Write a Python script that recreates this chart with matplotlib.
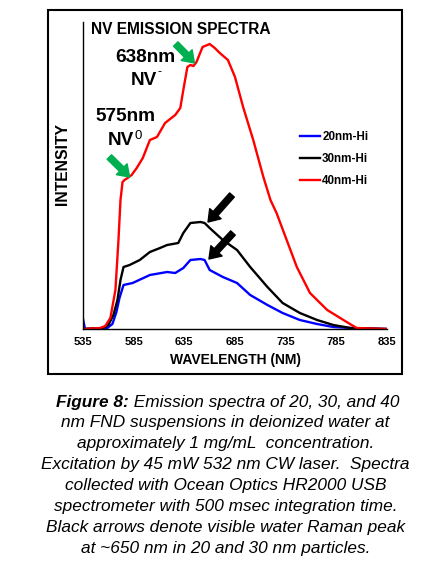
import matplotlib
matplotlib.use("Agg")
import matplotlib.pyplot as plt
from matplotlib.patches import Rectangle

plt.rcParams['font.family'] = ['Liberation Sans', 'DejaVu Sans']

# spectra (wavelength nm, intensity arb.)
red_wl = [535, 552, 557, 562, 567, 570, 572, 574, 576, 579, 583, 588, 594, 601, 608, 616, 626,
          631, 634, 638, 641, 644, 647, 653, 660, 665, 670, 678, 685, 693, 703, 713, 720, 726,
          736, 746, 759, 776, 792, 805, 835]
red_i = [0, 1, 3, 11, 39, 89, 129, 147, 149, 151, 154, 161, 171, 189, 192, 206, 214,
         221, 239, 262, 264, 263, 267, 282, 285, 281, 276, 269, 252, 222, 189, 152, 129, 116,
         89, 62, 36, 19, 9, 1, 0]

black_wl = [535, 555, 560, 565, 569, 572, 575, 581, 591, 601, 611, 618, 629, 634, 641, 651,
            655, 660, 673, 687, 700, 717, 732, 749, 766, 782, 799, 835]
black_i = [0, 1, 4, 14, 29, 49, 62, 64, 69, 77, 81, 84, 86, 96, 106, 107,
           106, 101, 89, 79, 62, 42, 26, 16, 9, 4, 1, 0]

blue_wl = [535, 537, 559, 564, 568, 571, 575, 584, 601, 618, 626, 634, 641, 651, 655, 660,
           673, 687, 700, 717, 732, 749, 766, 782, 799, 835]
blue_i = [10, 0, 1, 5, 17, 31, 44, 46, 54, 57, 56, 61, 69, 70, 69, 59,
          52, 46, 34, 24, 16, 9, 5, 2, 1, 0]

labels = ["20nm-Hi", "30nm-Hi", "40nm-Hi"]
xticks = [535, 585, 635, 685, 735, 785, 835]

W, H = 428, 567
fig = plt.figure(figsize=(W / 100, H / 100), dpi=100)
ax = fig.add_axes([83 / W, 1 - 329 / H, 304 / W, 307 / H])

ax.plot(blue_wl, blue_i, color='#0000ff', lw=1.7, label=labels[0])
ax.plot(black_wl, black_i, color='black', lw=1.7, label=labels[1])
ax.plot(red_wl, red_i, color='#ff0000', lw=1.7, label=labels[2])

ax.set_xlim(535, 835)
ax.set_ylim(0, 307)
ax.set_xticks(xticks)
ax.set_xticklabels([str(t) for t in xticks], fontweight='bold', fontsize=8)
ax.tick_params(axis='x', length=0, pad=6)
ax.set_yticks([])
for s in ['top', 'right']:
    ax.spines[s].set_visible(False)
ax.spines['left'].set_linewidth(1.0)
ax.spines['bottom'].set_linewidth(1.0)
ax.set_xlabel("WAVELENGTH (NM)", fontweight='bold', fontsize=10, labelpad=4)

fig.text(63 / W, 1 - 164 / H, "INTENSITY", rotation=90, ha='center', va='center',
         fontweight='bold', fontsize=11.3)
fig.text(91 / W, 1 - 30 / H, "NV EMISSION SPECTRA", ha='left', va='center',
         fontweight='bold', fontsize=11.2)

fig.text(145 / W, 1 - 58 / H, "638nm", ha='center', va='center', fontweight='bold', fontsize=13.7)
fig.text(131 / W, 1 - 81 / H, "NV", ha='left', va='center', fontweight='bold', fontsize=13.7)
fig.text(157 / W, 1 - 72 / H, "-", ha='left', va='center', fontsize=9)
fig.text(125 / W, 1 - 117 / H, "575nm", ha='center', va='center', fontweight='bold', fontsize=13.7)
fig.text(108 / W, 1 - 141 / H, "NV", ha='left', va='center', fontweight='bold', fontsize=13.7)
fig.text(134.5 / W, 1 - 136 / H, "0", ha='left', va='center', fontsize=9.5)

green = '#00b050'
arrows = [((561.0, 172), (581.0, 152), green),
          ((626.5, 285), (645.0, 266), green),
          ((682.0, 134), (658.4, 107), 'black'),
          ((683.0, 96), (659.3, 70), 'black')]
for tail, head, c in arrows:
    ax.annotate('', xy=head, xytext=tail,
                arrowprops=dict(arrowstyle='simple,head_width=1.1,head_length=0.8,tail_width=0.45',
                                color=c, shrinkA=0, shrinkB=0))

ax.legend(loc='upper left', bbox_to_anchor=(300 / W, 1 - 131 / H),
          bbox_transform=fig.transFigure, frameon=False,
          prop={'weight': 'bold', 'size': 8.4}, handlelength=1.7, handletextpad=0.2,
          labelspacing=0.85, borderaxespad=0, borderpad=0)

fig.add_artist(Rectangle((48 / W, 1 - 374 / H), 354 / W, 364 / H, transform=fig.transFigure,
                         fill=False, lw=1.5, ec='black'))

caption = ["Emission spectra of 20, 30, and 40",
           "nm FND suspensions in deionized water at",
           "approximately 1 mg/mL  concentration.",
           "Excitation by 45 mW 532 nm CW laser.  Spectra",
           "collected with Ocean Optics HR2000 USB",
           "spectrometer with 500 msec integration time.",
           "Black arrows denote visible water Raman peak",
           "at ~650 nm in 20 and 30 nm particles."]
cx = 225.5 / W
fs = 12.4
fig.canvas.draw()
r = fig.canvas.get_renderer()
for k, line in enumerate(caption):
    y = 1 - (402 + k * 20.86) / H
    if k == 0:
        t1 = fig.text(0, y, "Figure 8:", fontweight='bold', style='italic', fontsize=fs, va='center')
        t2 = fig.text(0, y, " " + line, style='italic', fontsize=fs, va='center')
        w1 = t1.get_window_extent(r).width
        w2 = t2.get_window_extent(r).width
        x0 = 228 - (w1 + w2) / 2
        t1.set_x(x0 / W)
        t2.set_x((x0 + w1) / W)
    else:
        fig.text(cx, y, line, style='italic', fontsize=fs, ha='center', va='center')

fig.savefig("out.png", dpi=100)
